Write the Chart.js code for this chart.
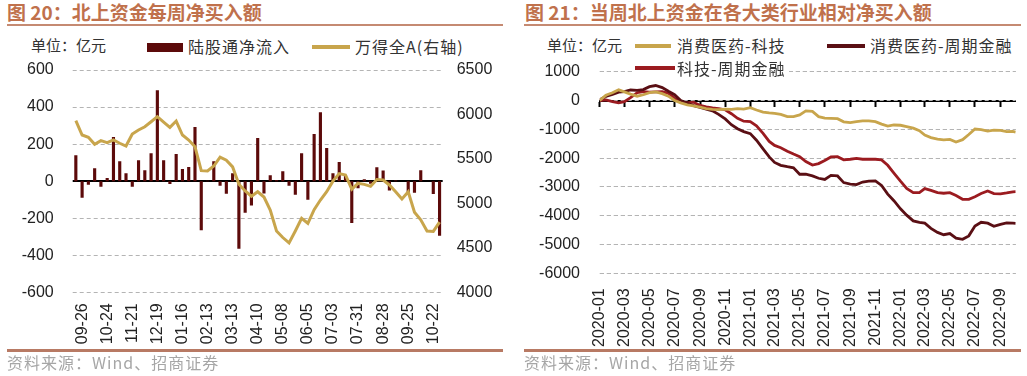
<!DOCTYPE html>
<html>
<head>
<meta charset="utf-8">
<script src="https://cdn.jsdelivr.net/npm/chart.js@4.4.0/dist/chart.umd.min.js"></script>
<style>
body { margin: 0; width: 1027px; height: 376px; background: #fff; position: relative; overflow: hidden;
       font-family: "Noto Sans CJK SC", "Noto Sans", sans-serif; color: #333; }
.abs { position: absolute; white-space: nowrap; }
.title { top: 0; font-size: 19px; font-weight: bold; color: #c0714c; line-height: 24px; }
.rule { height: 2px; background: #c58a72; }
.rule.bottom { height: 3px; background: #b87a64; }
.unit { font-size: 15px; line-height: 18px; top: 36px; color: #333; }
.lg { font-size: 16px; line-height: 18px; letter-spacing: 1px; color: #333; }
.sw { height: 4px; }
.src { font-size: 16px; line-height: 18px; top: 353px; color: #a6a6a6; letter-spacing: 1px; }
canvas { position: absolute; }
</style>
</head>
<body>
<div class="abs title" style="left:7px">图 20：北上资金每周净买入额</div>
<div class="abs rule" style="left:7px;top:24px;width:496px"></div>
<div class="abs title" style="left:525px">图 21：当周北上资金在各大类行业相对净买入额</div>
<div class="abs rule" style="left:524px;top:24px;width:497px"></div>

<canvas id="flowChart" width="512" height="290" style="left:0;top:60px"></canvas>
<canvas id="sectorChart" width="515" height="290" style="left:512px;top:60px"></canvas>

<div class="abs unit" style="left:31px">单位：亿元</div>
<div class="abs" style="left:147px;top:43px;width:36px;height:9px;background:#5c0a0a"></div>
<div class="abs lg" style="left:188px;top:37px">陆股通净流入</div>
<div class="abs sw" style="left:312px;top:45px;width:38px;background:#c8a54c"></div>
<div class="abs lg" style="left:355px;top:37px">万得全A(右轴)</div>

<div class="abs unit" style="left:547px">单位：亿元</div>
<div class="abs sw" style="left:635px;top:44px;width:36px;background:#c8a54c"></div>
<div class="abs lg" style="left:677px;top:36px">消费医药-科技</div>
<div class="abs sw" style="left:827px;top:44px;width:38px;background:#5a0f14"></div>
<div class="abs lg" style="left:870px;top:36px">消费医药-周期金融</div>
<div class="abs" style="left:633px;top:58px;width:156px;height:20px;background:#fff"></div>
<div class="abs sw" style="left:635px;top:66px;width:40px;background:#9b1b20"></div>
<div class="abs lg" style="left:677px;top:59px">科技-周期金融</div>

<div class="abs rule bottom" style="left:7px;top:349px;width:496px"></div>
<div class="abs rule bottom" style="left:524px;top:349px;width:497px"></div>
<div class="abs src" style="left:7px">资料来源：Wind、招商证券</div>
<div class="abs src" style="left:524px">资料来源：Wind、招商证券</div>

<script>
// weekly northbound flow (left chart)
const weekLabels = ['09-19','09-26','10-03','10-10','10-17','10-24','10-31','11-07','11-14','11-21',
  '11-28','12-05','12-12','12-19','12-26','01-02','01-09','01-16','01-23','01-30',
  '02-06','02-13','02-20','02-27','03-06','03-13','03-20','03-27','04-03','04-10',
  '04-17','04-24','05-01','05-08','05-15','05-22','05-29','06-05','06-12','06-19',
  '06-26','07-03','07-10','07-17','07-24','07-31','08-07','08-14','08-21','08-28',
  '09-04','09-11','09-18','09-25','10-01','10-08','10-15','10-22','10-29'];
const northFlow = [140,-90,-20,70,-30,17,238,108,43,-30,
  113,59,151,491,113,-15,146,66,77,292,
  -265,2,108,-25,-68,43,-365,-171,-132,233,
  -67,32,5,53,-25,-73,150,-101,254,372,
  179,43,103,30,-226,-38,10,-14,75,58,
  -50,4,0,-63,-63,59,0,-69,-295];
const windA = [5930,5769,5743,5664,5705,5683,5713,5676,5645,5780,
  5825,5862,5918,5975,5915,5855,5926,5769,5713,5637,
  5368,5364,5420,5520,5485,5410,5215,5140,5080,5131,
  5072,4925,4690,4616,4555,4690,4832,4776,4930,5038,
  5131,5250,5335,5319,5160,5226,5214,5192,5268,5263,
  5207,5131,5050,5131,4900,4815,4690,4685,4790];

// relative net buying by sector pair (right chart), half-monthly readings
const sectorTicks = ['2020-01','2020-03','2020-05','2020-07','2020-09','2020-11',
  '2021-01','2021-03','2021-05','2021-07','2021-09','2021-11',
  '2022-01','2022-03','2022-05','2022-07','2022-09'];
const consumerTech = [0,180,270,370,300,220,150,200,270,300,
  240,150,0,-80,-150,-190,-230,-280,-310,-320,
  -300,-310,-280,-300,-250,-330,-400,-430,-450,-480,
  -560,-560,-500,-360,-380,-560,-610,-620,-630,-740,
  -770,-735,-710,-710,-735,-820,-890,-850,-860,-905,
  -960,-1050,-1200,-1290,-1340,-1365,-1350,-1440,-1360,-1180,
  -990,-1010,-1060,-1030,-1040,-1080,-1070,-1100];
const consumerCyclical = [30,140,210,290,310,365,350,380,480,520,
  450,320,200,0,-100,-180,-240,-300,-360,-480,
  -640,-840,-980,-1080,-1150,-1380,-1680,-1960,-2150,-2250,
  -2300,-2340,-2560,-2560,-2620,-2700,-2740,-2600,-2620,-2850,
  -2900,-2920,-2830,-2800,-2790,-2950,-3250,-3480,-3760,-3980,
  -4180,-4230,-4260,-4440,-4580,-4660,-4620,-4780,-4820,-4700,
  -4360,-4230,-4260,-4370,-4300,-4250,-4260,-4265];
const techCyclical = [0,20,-40,-80,-40,100,270,310,290,300,
  310,250,80,-60,-80,-60,-170,-220,-260,-280,
  -320,-460,-620,-720,-730,-880,-1140,-1420,-1560,-1640,
  -1760,-1860,-1950,-2120,-2240,-2190,-2080,-1960,-1950,-2060,
  -2040,-2010,-2040,-2040,-2040,-2060,-2250,-2520,-2800,-3050,
  -3200,-3200,-3060,-3120,-3200,-3220,-3200,-3300,-3430,-3430,
  -3340,-3230,-3140,-3230,-3240,-3210,-3170,-3165];

// half-month dates 2020-01-01 .. 2022-10-01, plus last week
const sectorDates = [];
for (let y = 2020; y <= 2022; y++) {
  for (let m = 1; m <= 12; m++) {
    const mm = String(m).padStart(2, '0');
    sectorDates.push(y + '-' + mm + '-01');
    if (y === 2022 && m === 10) break;
    sectorDates.push(y + '-' + mm + '-16');
  }
}
sectorDates.push('2022-10-08');

function dayOf(s) {
  const p = s.split('-').map(Number);
  return (Date.UTC(p[0], p[1] - 1, p[2] || 1) - Date.UTC(2020, 0, 1)) / 86400000;
}

const tickFont = { family: "'Liberation Sans', Arial, sans-serif", size: 16 };
const tickColor = '#222';
const gridGrey = '#b4b4b4';
const plain = v => String(v);
// keep tick padding / rotated labels from shrinking the plot area
const noPadV = s => { s.paddingTop = 0; s.paddingBottom = 0; };
const noPadH = s => { s.paddingLeft = 0; s.paddingRight = 0; };

// dashed value gridlines (solid black at zero when asked)
const dashedGrid = {
  id: 'dashedGrid',
  beforeDatasetsDraw(chart, args, opts) {
    const { ctx, chartArea } = chart;
    const scale = chart.scales.y;
    ctx.save();
    scale.ticks.forEach(t => {
      const isZero = opts.zeroLine && t.value === 0;
      const px = scale.getPixelForValue(t.value);
      const y = isZero ? Math.round(px) : Math.round(px - 0.5) + 0.5;
      ctx.beginPath();
      ctx.lineWidth = isZero ? 2 : 1;
      ctx.strokeStyle = isZero ? '#000' : gridGrey;
      ctx.setLineDash(isZero ? [] : [4, 3]);
      ctx.moveTo(chartArea.left, y);
      ctx.lineTo(chartArea.right, y);
      ctx.stroke();
    });
    ctx.restore();
  }
};

/* left chart: weekly flow */
new Chart(document.getElementById('flowChart'), {
  data: {
    labels: weekLabels,
    datasets: [{
      type: 'line',
      label: '万得全A(右轴)',
      data: windA,
      yAxisID: 'y1',
      borderColor: '#c8a54c',
      borderWidth: 3,
      pointRadius: 0,
      tension: 0,
      order: 0
    }, {
      type: 'bar',
      label: '陆股通净流入',
      data: northFlow,
      yAxisID: 'y',
      backgroundColor: '#5c0a0a',
      barPercentage: 0.5,
      categoryPercentage: 1,
      order: 1
    }]
  },
  options: {
    responsive: false,
    animation: false,
    devicePixelRatio: 1,
    layout: { padding: { top: 10, left: 0, right: 0, bottom: 0 } },
    plugins: { legend: { display: false }, tooltip: { enabled: false }, dashedGrid: { zeroLine: true } },
    scales: {
      x: {
        offset: true,
        grid: { display: false, drawTicks: false },
        border: { display: false },
        ticks: {
          autoSkip: false, maxRotation: 90, minRotation: 90, padding: 11,
          font: tickFont, color: tickColor,
          callback: (v, i) => (i % 4 === 1 ? weekLabels[i] : '')
        },
        afterFit: s => { s.height = 57.7; noPadH(s); }
      },
      y: {
        position: 'left',
        min: -600, max: 600,
        ticks: { stepSize: 200, padding: 19, font: tickFont, color: tickColor, callback: plain },
        grid: { display: false, drawTicks: false },
        border: { display: false },
        afterFit: s => { s.width = 72.7; noPadV(s); }
      },
      y1: {
        position: 'right',
        min: 4000, max: 6500,
        ticks: { stepSize: 500, padding: 14, font: tickFont, color: tickColor, callback: plain },
        grid: { display: false, drawTicks: false },
        border: { display: false },
        afterFit: s => { s.width = 69.3; noPadV(s); }
      }
    }
  },
  plugins: [dashedGrid]
});

/* right chart: sector relative net buying */
const xMax = dayOf(sectorDates[sectorDates.length - 1]);
const monthTicks = scale => { scale.ticks = sectorTicks.map(l => ({ value: dayOf(l) })); };
const toPoints = arr => arr.map((v, i) => ({ x: dayOf(sectorDates[i]), y: v }));

new Chart(document.getElementById('sectorChart'), {
  type: 'line',
  data: {
    datasets: [{
      label: '消费医药-科技',
      data: toPoints(consumerTech),
      borderColor: '#c8a54c'
    }, {
      label: '消费医药-周期金融',
      data: toPoints(consumerCyclical),
      borderColor: '#5a0f14'
    }, {
      label: '科技-周期金融',
      data: toPoints(techCyclical),
      borderColor: '#9b1b20'
    }]
  },
  options: {
    responsive: false,
    animation: false,
    devicePixelRatio: 1,
    elements: { line: { borderWidth: 2.8, tension: 0 }, point: { radius: 0 } },
    layout: { padding: { top: 11.7, left: 0, right: 11.3, bottom: 0 } },
    plugins: { legend: { display: false }, tooltip: { enabled: false }, dashedGrid: { zeroLine: false } },
    scales: {
      x: {
        type: 'linear',
        min: 0, max: xMax,
        afterBuildTicks: monthTicks,
        grid: { display: false, drawTicks: false },
        border: { display: false },
        ticks: {
          autoSkip: false, maxRotation: 90, minRotation: 90, padding: 15,
          font: tickFont, color: tickColor,
          callback: (v, i) => sectorTicks[i]
        },
        afterFit: s => { s.height = 76.7; noPadH(s); }
      },
      xZero: {
        type: 'linear',
        axis: 'x',
        position: { y: 0 },
        min: 0, max: xMax,
        afterBuildTicks: monthTicks,
        ticks: { display: false },
        grid: { drawOnChartArea: false, drawTicks: true, tickLength: 5, tickWidth: 2, tickColor: '#000' },
        border: { display: true, color: '#000', width: 2 },
        afterFit: noPadH
      },
      y: {
        min: -6000, max: 1000,
        ticks: { stepSize: 1000, padding: 19.7, font: tickFont, color: tickColor, callback: plain },
        grid: { drawTicks: false, color: gridGrey, lineWidth: 1 },
        border: { display: false, dash: [4, 3] },
        afterFit: s => { s.width = 87.7; noPadV(s); }
      }
    }
  },
  plugins: [dashedGrid]
});
</script>
</body>
</html>
